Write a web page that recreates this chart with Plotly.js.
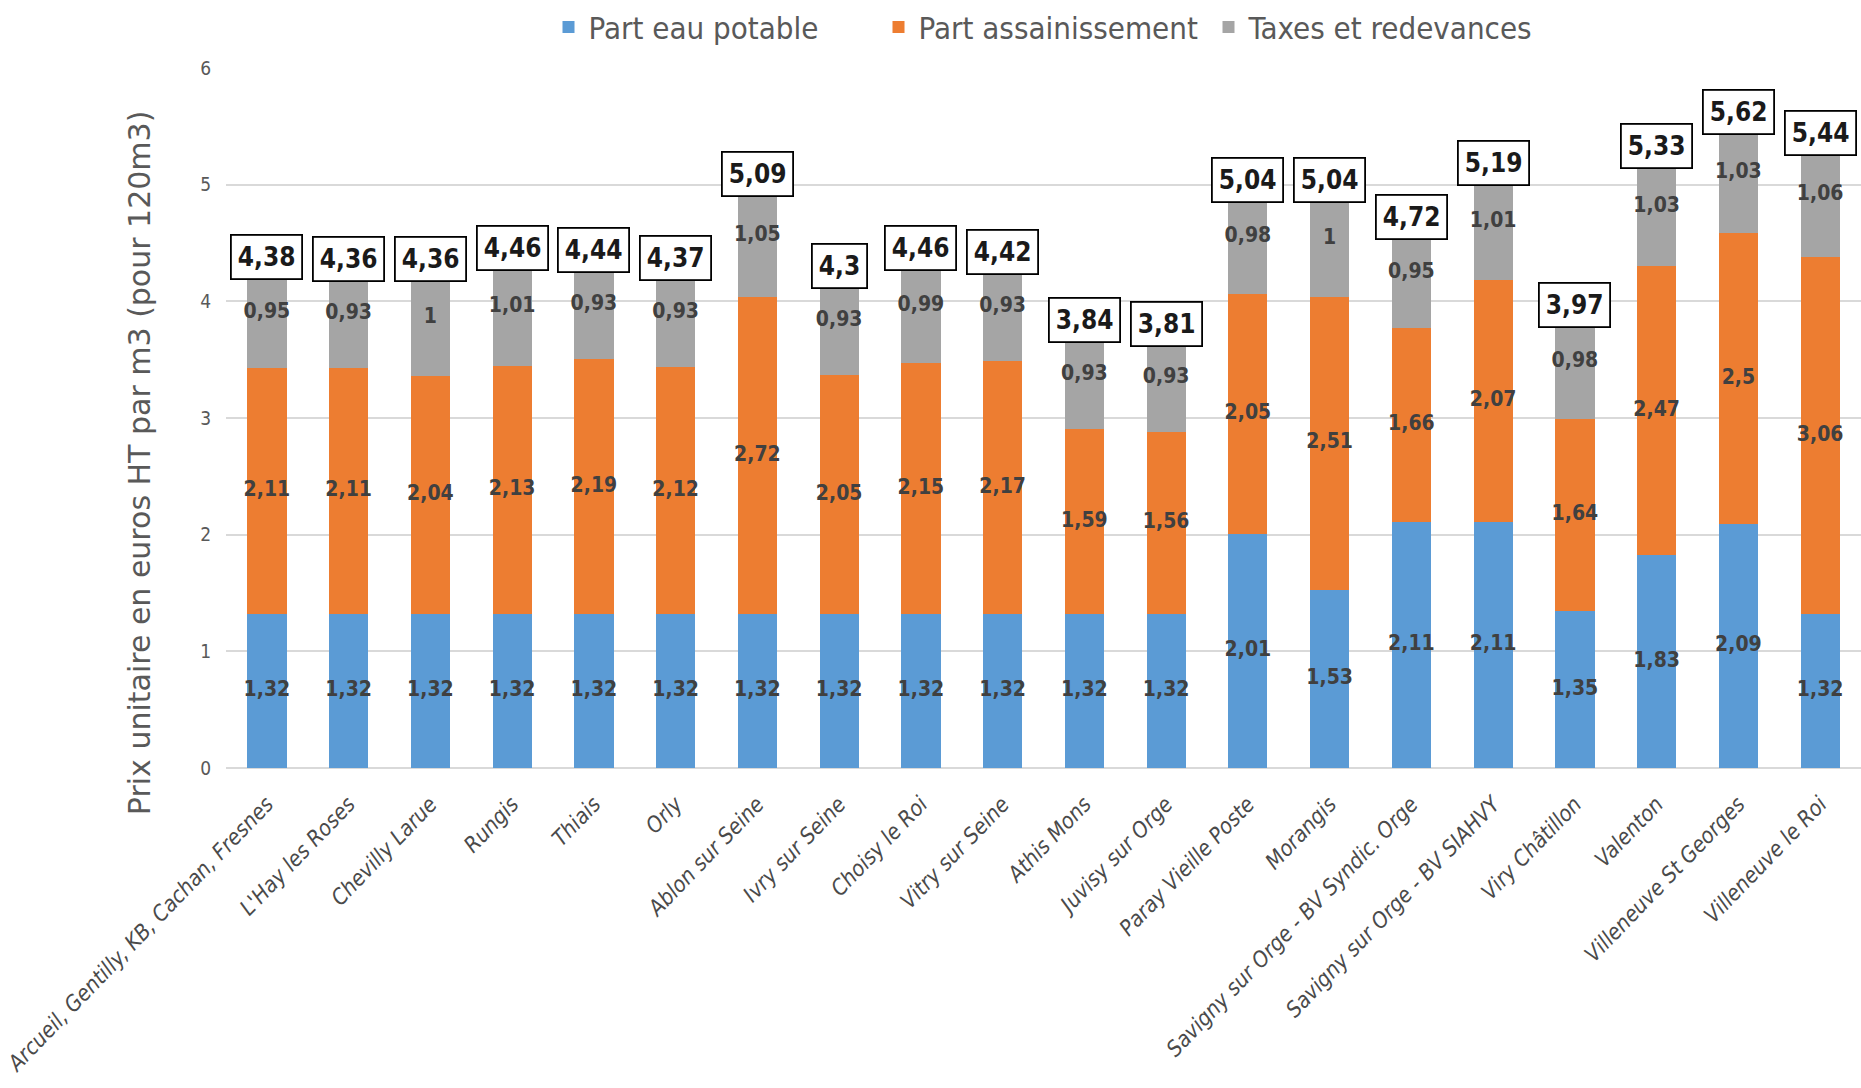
<!DOCTYPE html>
<html>
<head>
<meta charset="utf-8">
<script src="https://cdn.plot.ly/plotly-3.0.1.min.js"></script>
<style>html,body{margin:0;padding:0;background:#fff;}#chart{width:1861px;height:1088px;}</style>
</head>
<body>
<div id="chart"></div>
<script>
const categories = [
  "Arcueil, Gentilly, KB, Cachan, Fresnes",
  "L'Hay les Roses",
  "Chevilly Larue",
  "Rungis",
  "Thiais",
  "Orly",
  "Ablon sur Seine",
  "Ivry sur Seine",
  "Choisy le Roi",
  "Vitry sur Seine",
  "Athis Mons",
  "Juvisy sur Orge",
  "Paray Vieille Poste",
  "Morangis",
  "Savigny sur Orge - BV Syndic. Orge",
  "Savigny sur Orge - BV SIAHVY",
  "Viry Châtillon",
  "Valenton",
  "Villeneuve St Georges",
  "Villeneuve le Roi"
];
const eauPotable = [1.32,1.32,1.32,1.32,1.32,1.32,1.32,1.32,1.32,1.32,1.32,1.32,2.01,1.53,2.11,2.11,1.35,1.83,2.09,1.32];
const assainissement = [2.11,2.11,2.04,2.13,2.19,2.12,2.72,2.05,2.15,2.17,1.59,1.56,2.05,2.51,1.66,2.07,1.64,2.47,2.5,3.06];
const taxes = [0.95,0.93,1,1.01,0.93,0.93,1.05,0.93,0.99,0.93,0.93,0.93,0.98,1,0.95,1.01,0.98,1.03,1.03,1.06];
const totals = [4.38,4.36,4.36,4.46,4.44,4.37,5.09,4.3,4.46,4.42,3.84,3.81,5.04,5.04,4.72,5.19,3.97,5.33,5.62,5.44];
const yTicks = [0,1,2,3,4,5,6];

const seriesNames = ["Part eau potable","Part assainissement","Taxes et redevances"];
const seriesColors = ["#5B9BD5","#ED7D31","#A5A5A5"];
const fr = v => String(v).replace('.', ',');

const NARROW = '"Liberation Sans Narrow", "DejaVu Sans Condensed", "Liberation Sans", sans-serif';

const series = [eauPotable, assainissement, taxes];
const traces = [];
series.forEach((vals, i) => {
  traces.push({
    type: 'bar', name: seriesNames[i], x: categories, y: vals,
    marker: {color: seriesColors[i], line: {width: 0}},
    hoverinfo: 'skip'
  });
});
// segment labels
series.forEach((vals, i) => {
  const mids = vals.map((v, k) => {
    let base = 0;
    for (let j = 0; j < i; j++) base += series[j][k];
    return base + v / 2;
  });
  traces.push({
    type: 'scatter', mode: 'text', x: categories, y: mids,
    text: vals.map(fr), textposition: 'middle center',
    textfont: {family: NARROW, size: 21, color: '#404040', weight: 'bold'},
    showlegend: false, hoverinfo: 'skip', cliponaxis: false
  });
});

const annotations = categories.map((c, k) => ({
  x: c, y: totals[k], xref: 'x', yref: 'y',
  text: fr(totals[k]), showarrow: false,
  font: {family: NARROW, size: 26, color: '#1a1a1a', weight: 'bold'},
  bgcolor: '#ffffff', bordercolor: '#000000', borderwidth: 1.8, borderpad: 6,
  xanchor: 'center', yanchor: 'middle'
}));
annotations.push({
  xref: 'paper', yref: 'paper', x: -0.053, y: 0.436,
  text: 'Prix unitaire en euros HT par m3 (pour 120m3)', textangle: -90,
  showarrow: false, xanchor: 'center', yanchor: 'middle',
  font: {family: '"DejaVu Sans", sans-serif', size: 30, color: '#595959'}
});

const layout = {
  width: 1861, height: 1088,
  margin: {l: 226, r: 0, t: 68, b: 320},
  paper_bgcolor: '#ffffff', plot_bgcolor: '#ffffff',
  barmode: 'stack', bargap: 0.52,
  showlegend: true,
  legend: {
    orientation: 'h', x: 0.5, xanchor: 'center', y: 1.058, yanchor: 'middle',
    font: {family: NARROW, size: 31, color: '#595959'}, traceorder: 'normal',
    entrywidth: 285, entrywidthmode: 'pixels', itemwidth: 30,
    itemclick: false
  },
  xaxis: {
    type: 'category', range: [-0.5, categories.length - 0.5], autorange: false,
    tickangle: -46, ticks: '', showgrid: false, zeroline: false,
    showline: false, ticklabelstandoff: 18,
    tickfont: {family: NARROW, size: 22, color: '#4a4a4a', style: 'italic'}
  },
  yaxis: {
    range: [0, 6], autorange: false, tickvals: yTicks, ticktext: yTicks.map(String),
    showgrid: true, gridcolor: '#D9D9D9', gridwidth: 1.8,
    zeroline: true, zerolinecolor: '#D9D9D9', zerolinewidth: 1.8,
    ticks: '', ticklabelstandoff: 14,
    tickfont: {family: NARROW, size: 19, color: '#595959'}
  },
  annotations: annotations
};

Plotly.newPlot('chart', traces, layout, {displayModeBar: false, staticPlot: true});
</script>
</body>
</html>
